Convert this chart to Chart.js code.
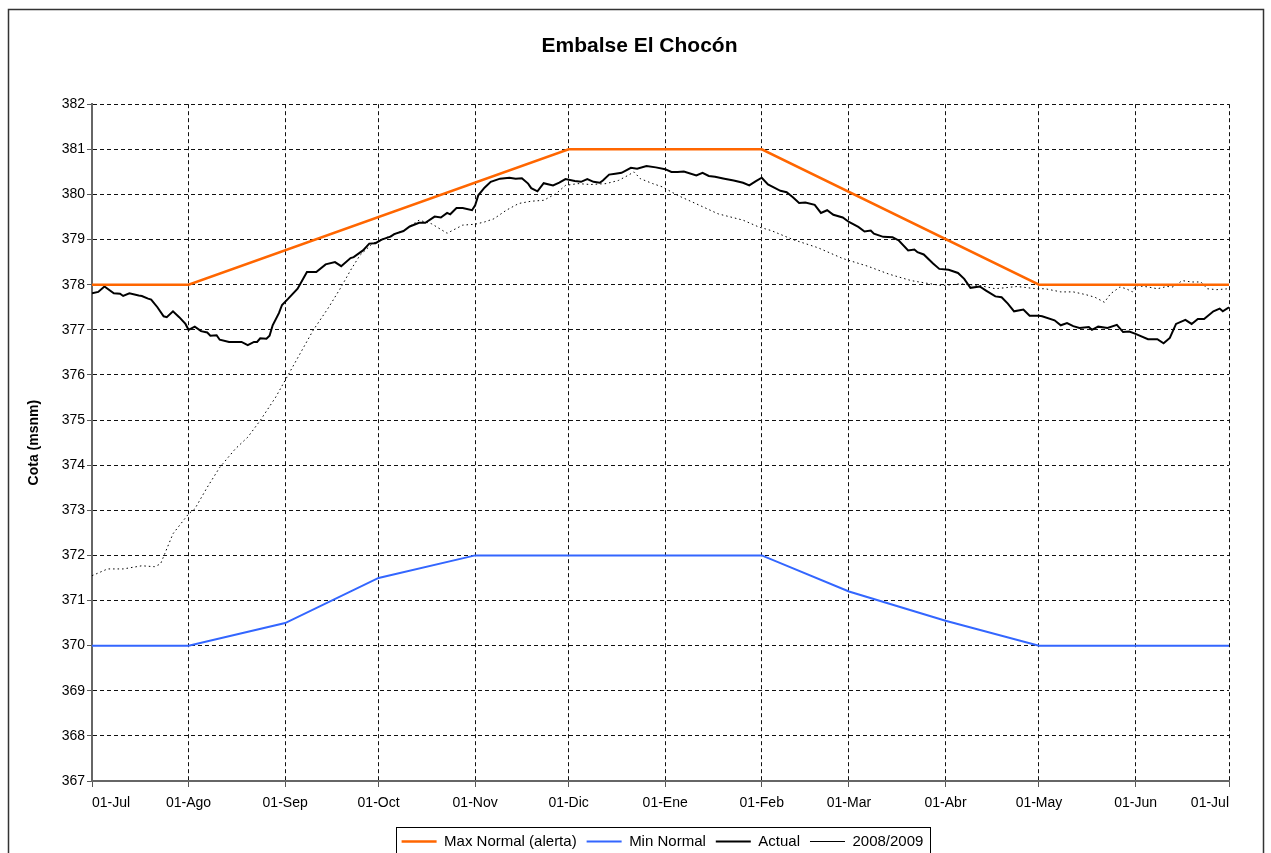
<!DOCTYPE html>
<html>
<head>
<meta charset="utf-8">
<title>Embalse El Chocón</title>
<script src="https://cdn.jsdelivr.net/npm/chart.js@4.4.1/dist/chart.umd.min.js"></script>
<style>
  html, body { margin: 0; padding: 0; background: #fff; overflow: hidden; }
  canvas { display: block; }
</style>
</head>
<body>
<canvas id="cota" width="1271" height="853"></canvas>
<script>
// dia 0 = 01-Jul
var mesDias = [0, 31, 62, 92, 123, 153, 184, 215, 243, 274, 304, 335, 365];
var mesLabels = ['01-Jul', '01-Ago', '01-Sep', '01-Oct', '01-Nov', '01-Dic', '01-Ene',
                 '01-Feb', '01-Mar', '01-Abr', '01-May', '01-Jun', '01-Jul'];

var maxDias = [0, 31, 153, 215, 304, 365];
var maxCota = [378, 378, 381, 381, 378, 378];

var minDias = [0, 31, 62, 92, 123, 215, 243, 274, 304, 365];
var minCota = [370, 370, 370.5, 371.5, 372, 372, 371.2, 370.55, 370, 370];

var actualDias = [0, 2, 4, 7, 9, 10, 12, 15, 16, 18, 19, 21, 23, 24, 26, 28, 30, 31, 33, 35,
  37, 38, 40, 41, 44, 48, 50, 52, 53, 54, 56, 57, 58, 60, 61, 63, 66, 69, 72, 75,
  78, 80, 83, 84, 87, 89, 91, 93, 96, 97, 100, 102, 105, 107, 110, 112, 114, 115, 117, 119,
  122, 123, 124, 126, 128, 131, 134, 136, 138, 140, 141, 143, 145, 148, 150, 152, 155, 157, 159, 161,
  163, 164, 166, 168, 170, 173, 175, 178, 181, 184, 186, 188, 190, 194, 196, 198, 200, 203, 206, 209,
  211, 213, 215, 217, 219, 221, 223, 225, 227, 229, 232, 234, 236, 238, 241, 243, 246, 248, 250, 251,
  254, 257, 259, 262, 264, 265, 267, 270, 272, 275, 278, 280, 282, 285, 287, 290, 292, 294, 296, 299,
  301, 304, 305, 309, 311, 313, 315, 317, 320, 321, 323, 326, 329, 331, 333, 335, 339, 342, 344, 346,
  348, 351, 353, 355, 357, 360, 362, 363, 365];
var actualCota = [377.81, 377.84, 377.96, 377.81, 377.80, 377.75, 377.81, 377.76, 377.75, 377.69,
  377.67, 377.50, 377.30, 377.28, 377.41, 377.28, 377.13, 377.00, 377.07, 376.97,
  376.94, 376.87, 376.88, 376.78, 376.73, 376.73, 376.66, 376.73, 376.73, 376.81,
  376.80, 376.87, 377.10, 377.37, 377.55, 377.69, 377.91, 378.28, 378.28, 378.45,
  378.50, 378.41, 378.59, 378.61, 378.76, 378.91, 378.92, 379.00, 379.07, 379.12,
  379.19, 379.29, 379.37, 379.37, 379.51, 379.49, 379.59, 379.56, 379.70, 379.70,
  379.65, 379.76, 379.98, 380.15, 380.28, 380.35, 380.37, 380.35, 380.36, 380.24,
  380.14, 380.07, 380.25, 380.20, 380.26, 380.34, 380.30, 380.28, 380.34, 380.28,
  380.26, 380.31, 380.44, 380.46, 380.48, 380.59, 380.57, 380.63, 380.60, 380.56,
  380.50, 380.50, 380.51, 380.42, 380.48, 380.41, 380.39, 380.35, 380.31, 380.26,
  380.20, 380.29, 380.37, 380.22, 380.15, 380.08, 380.05, 379.94, 379.81, 379.82,
  379.77, 379.59, 379.65, 379.55, 379.49, 379.39, 379.28, 379.18, 379.20, 379.13,
  379.06, 379.05, 378.98, 378.76, 378.78, 378.72, 378.67, 378.47, 378.35, 378.33,
  378.26, 378.13, 377.93, 377.96, 377.87, 377.74, 377.72, 377.58, 377.41, 377.45,
  377.31, 377.31, 377.30, 377.21, 377.10, 377.15, 377.08, 377.04, 377.06, 377.00,
  377.07, 377.04, 377.11, 376.95, 376.96, 376.91, 376.79, 376.79, 376.70, 376.82,
  377.13, 377.22, 377.13, 377.24, 377.24, 377.41, 377.47, 377.41, 377.50];

var anteriorDias = [0, 5, 10, 16, 20, 22, 26, 31, 33, 37, 41, 46, 50, 54, 59, 62, 65, 71, 76, 80,
  83, 86, 90, 95, 100, 105, 109, 114, 119, 123, 126, 129, 133, 137, 141, 145, 149, 152, 156, 160,
  165, 169, 172, 174, 176, 180, 183, 188, 195, 201, 209, 214, 218, 225, 233, 241, 249, 256, 263, 269,
  273, 279, 285, 290, 297, 303, 306, 311, 315, 319, 322, 325, 327, 330, 332, 334, 335, 339, 342, 345,
  347, 350, 353, 356, 358, 361, 365];
var anteriorCota = [371.55, 371.70, 371.70, 371.77, 371.75, 371.81, 372.48, 372.92, 373.03, 373.51,
  373.95, 374.36, 374.62, 374.99, 375.51, 375.88, 376.25, 376.99, 377.50, 377.95,
  378.32, 378.65, 378.91, 379.06, 379.20, 379.43, 379.35, 379.14, 379.32, 379.34,
  379.39, 379.46, 379.65, 379.80, 379.85, 379.87, 380.02, 380.20, 380.24, 380.22,
  380.24, 380.31, 380.42, 380.50, 380.35, 380.24, 380.17, 379.98, 379.76, 379.57,
  379.43, 379.28, 379.20, 379.00, 378.82, 378.58, 378.41, 378.23, 378.09, 378.02,
  377.98, 378.02, 377.98, 377.91, 377.96, 377.91, 377.91, 377.84, 377.84, 377.78,
  377.72, 377.61, 377.80, 377.95, 377.91, 377.84, 377.98, 377.95, 377.91, 377.96,
  377.95, 378.09, 378.06, 378.06, 377.91, 377.89, 377.91];

function puntos(dias, cotas) {
  return dias.map(function (d, i) { return { x: d, y: cotas[i] }; });
}

var fuente = "'Liberation Sans', Arial, sans-serif";

// marco exterior, recuadro de la leyenda y centrado de titulo/leyenda
var marco = {
  id: 'marco',
  beforeDraw: function (chart) {
    var c = chart.ctx;
    c.save();
    c.fillStyle = '#fff';
    c.fillRect(0, 0, chart.width, chart.height);
    c.strokeStyle = '#333';
    c.lineWidth = 1.5;
    c.strokeRect(8.5, 9.5, 1255, 900);
    c.restore();
  },
  afterLayout: function (chart) {
    chart.titleBlock.left += 25; chart.titleBlock.right += 25;
    chart.legend.left += 48; chart.legend.right += 48;
  },
  afterDraw: function (chart) {
    var hb = chart.legend.legendHitBoxes;
    if (!hb || !hb.length) return;
    var l = hb[0].left - 6, t = hb[0].top - 7;
    var last = hb[hb.length - 1];
    var r = last.left + last.width + 6;
    var c = chart.ctx;
    c.save();
    c.strokeStyle = '#000';
    c.lineWidth = 1;
    c.strokeRect(Math.round(l) + .5, Math.round(t) + .5, Math.round(r - l), 60);
    c.restore();
  }
};

var ctx = document.getElementById('cota').getContext('2d');

var grafico = new Chart(ctx, {
  type: 'line',
  data: {
    datasets: [{
      label: 'Max Normal (alerta)',
      data: puntos(maxDias, maxCota),
      borderColor: '#FF6600',
      backgroundColor: '#FF6600',
      borderWidth: 2.5
    }, {
      label: 'Min Normal',
      data: puntos(minDias, minCota),
      borderColor: '#3366FF',
      backgroundColor: '#3366FF',
      borderWidth: 2
    }, {
      label: 'Actual',
      data: puntos(actualDias, actualCota),
      borderColor: '#000',
      backgroundColor: '#000',
      borderWidth: 2
    }, {
      label: '2008/2009',
      data: puntos(anteriorDias, anteriorCota),
      borderColor: '#000',
      backgroundColor: '#000',
      borderWidth: 1,
      borderDash: [1.5, 3]
    }]
  },
  options: {
    responsive: false,
    devicePixelRatio: 1,
    animation: false,
    elements: { point: { radius: 0 }, line: { tension: 0, fill: false } },
    layout: { padding: { left: 0, right: 42, top: 0, bottom: -6 } },
    scales: {
      x: {
        type: 'linear',
        min: 0,
        max: 365,
        afterBuildTicks: function (s) {
          s.ticks = mesDias.map(function (d) { return { value: d }; });
        },
        afterFit: function (s) { s.height = 43; },
        ticks: {
          autoSkip: false,
          maxRotation: 0,
          align: 'inner',
          padding: 8,
          color: '#000',
          font: { family: fuente, size: 14 },
          callback: function (v, i) { return mesLabels[i]; }
        },
        grid: { color: '#111', tickColor: '#555', tickLength: 6, tickBorderDash: [] },
        border: { display: true, color: '#666', width: 2, dash: [4, 3] }
      },
      y: {
        min: 367,
        max: 382,
        afterFit: function (s) { s.width = 92; },
        ticks: {
          stepSize: 1,
          padding: 2,
          color: '#000',
          font: { family: fuente, size: 14 }
        },
        title: {
          display: true,
          text: 'Cota (msnm)',
          color: '#000',
          font: { family: fuente, size: 14, weight: 'bold' },
          padding: { top: 26, bottom: 0 }
        },
        grid: { color: '#111', tickColor: '#555', tickLength: 5, tickBorderDash: [] },
        border: { display: true, color: '#666', width: 2, dash: [4, 3] }
      }
    },
    plugins: {
      title: {
        display: true,
        text: 'Embalse El Chocón',
        color: '#000',
        font: { family: fuente, size: 21, weight: 'bold' },
        padding: { top: 34, bottom: 45 }
      },
      legend: {
        position: 'bottom',
        labels: {
          usePointStyle: true,
          pointStyle: 'line',
          pointStyleWidth: 35,
          padding: 10,
          color: '#000',
          font: { family: fuente, size: 15 },
          generateLabels: function (chart) {
            var items = Chart.defaults.plugins.legend.labels.generateLabels(chart);
            items.forEach(function (it) {
              if (it.lineDash && it.lineDash.length) { it.lineDash = [2, 3]; it.strokeStyle = '#000'; }
            });
            return items;
          }
        }
      },
      tooltip: { enabled: false }
    }
  },
  plugins: [marco]
});
</script>
</body>
</html>
